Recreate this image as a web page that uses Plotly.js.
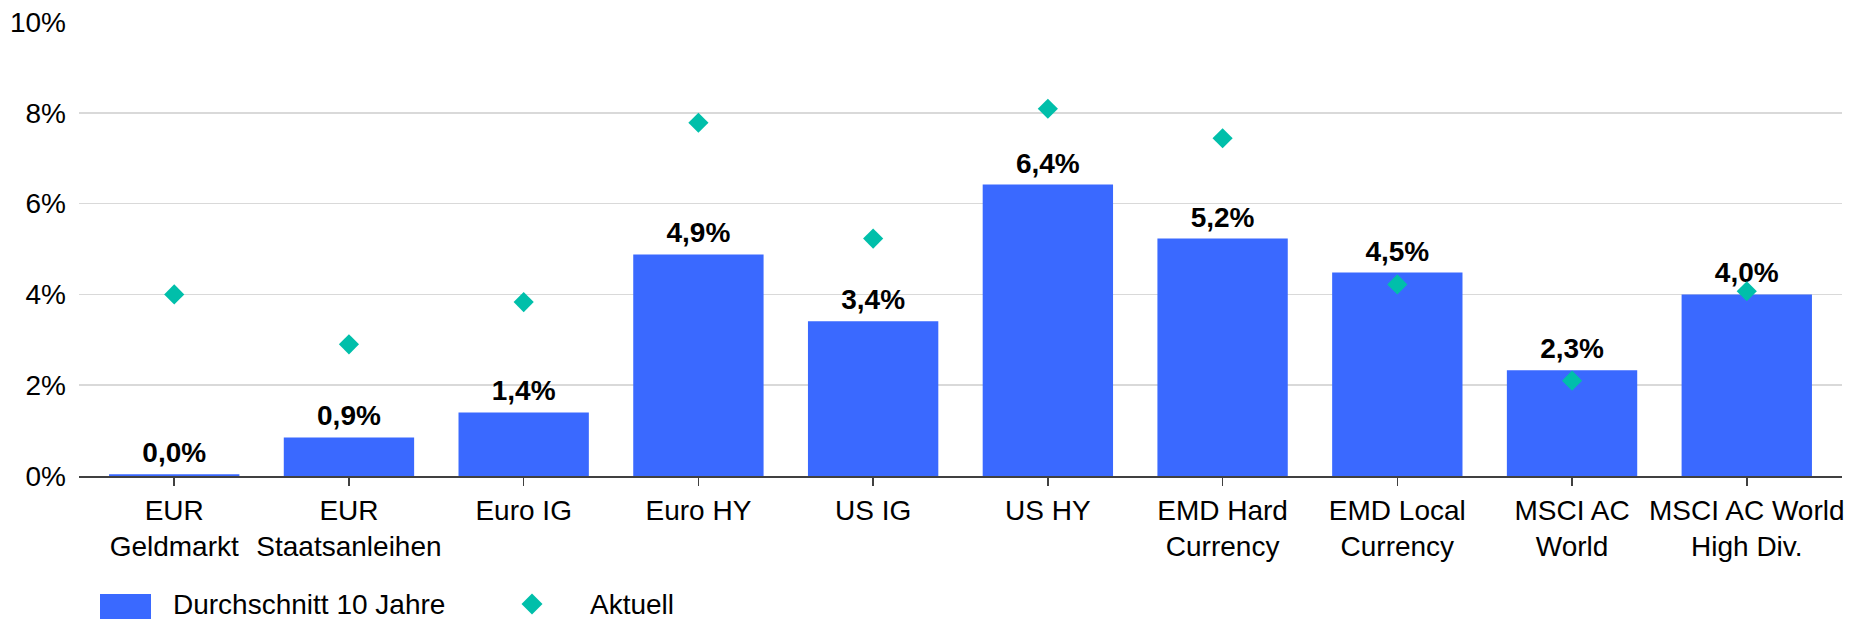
<!DOCTYPE html>
<html><head><meta charset="utf-8">
<script src="https://cdn.plot.ly/plotly-3.0.1.min.js"></script>
<style>html,body{margin:0;padding:0;background:#fff;}#chart{width:1849px;height:620px;}</style>
</head><body><div id="chart"></div>
<script>
// ---- data ----
const categories = ["EUR<br>Geldmarkt", "EUR<br>Staatsanleihen", "Euro IG", "Euro HY", "US IG", "US HY",
  "EMD Hard<br>Currency", "EMD Local<br>Currency", "MSCI AC<br>World", "MSCI AC World<br>High Div."];
const avg10y = [0.04, 0.85, 1.40, 4.88, 3.41, 6.42, 5.23, 4.48, 2.33, 4.00];
const avgLabels = ["0,0%", "0,9%", "1,4%", "4,9%", "3,4%", "6,4%", "5,2%", "4,5%", "2,3%", "4,0%"];
const current = [4.00, 2.90, 3.83, 7.78, 5.23, 8.09, 7.44, 4.22, 2.10, 4.07];
const seriesNames = ["Durchschnitt 10 Jahre", "Aktuell"];
const yTickVals = [0, 2, 4, 6, 8, 10];
const yTickText = ["0%", "2%", "4%", "6%", "8%", "10%"];

// ---- style ----
const BLUE = "#3A69FF";
const TEAL = "#00BFAA";
const FONT = "'Liberation Sans', Arial, sans-serif";
const FS = 28;
const W = 1849, H = 620;
const M = {l: 79, r: 7, t: 22, b: 144};
const PW = W - M.l - M.r, PH = H - M.t - M.b;
const px2x = p => (p - M.l) / PW;
const px2y = p => (H - M.b - p) / PH;

const traces = [
  {
    type: "bar", x: categories, y: avg10y, name: seriesNames[0],
    marker: {color: BLUE}, hoverinfo: "skip", showlegend: false
  },
  {
    type: "scatter", mode: "markers+text", x: categories, y: avg10y, text: avgLabels,
    textposition: "top center", cliponaxis: false,
    textfont: {family: FONT, size: FS, color: "#000", weight: "bold"},
    marker: {size: 6.4, opacity: 0}, hoverinfo: "skip", showlegend: false
  },
  {
    type: "scatter", mode: "markers", x: categories, y: current, name: seriesNames[1],
    marker: {symbol: "diamond", size: 15.5, color: TEAL}, cliponaxis: false,
    hoverinfo: "skip", showlegend: false
  }
];

// manual legend (swatches + labels)
const lgY = 604;
const dHalfX = 10.5 / PW, dHalfY = 10.5 / PH;
const dx = px2x(532), dy = px2y(lgY);
const shapes = [
  {type: "rect", xref: "paper", yref: "paper", x0: px2x(100), x1: px2x(151), y0: px2y(594), y1: px2y(619),
   fillcolor: BLUE, line: {width: 0}},
  {type: "path", xref: "paper", yref: "paper",
   path: `M ${dx - dHalfX} ${dy} L ${dx} ${dy + dHalfY} L ${dx + dHalfX} ${dy} L ${dx} ${dy - dHalfY} Z`,
   fillcolor: TEAL, line: {width: 0}}
];
const annotations = [
  {xref: "paper", yref: "paper", x: px2x(171), y: px2y(lgY), xanchor: "left", yanchor: "middle",
   text: seriesNames[0], showarrow: false, font: {family: FONT, size: FS, color: "#000"}},
  {xref: "paper", yref: "paper", x: px2x(588), y: px2y(lgY), xanchor: "left", yanchor: "middle",
   text: seriesNames[1], showarrow: false, font: {family: FONT, size: FS, color: "#000"}}
];

const layout = {
  width: W, height: H,
  margin: M,
  paper_bgcolor: "#fff", plot_bgcolor: "#fff",
  bargap: 0.254,
  showlegend: false,
  font: {family: FONT, size: FS, color: "#000"},
  xaxis: {
    type: "category", range: [-0.545, 9.545],
    showgrid: false, zeroline: false,
    showline: true, linecolor: "#404040", linewidth: 2,
    ticks: "outside", ticklen: 8, tickwidth: 1.5, tickcolor: "#404040",
    tickangle: 0,
    tickfont: {family: FONT, size: FS, color: "#000"},
    fixedrange: true
  },
  yaxis: {
    range: [0, 10], tickvals: yTickVals, ticktext: yTickText,
    showgrid: true, gridcolor: "#d9d9d9", gridwidth: 1.5,
    zeroline: false, showline: false, ticks: "",
    ticklabelstandoff: 12,
    tickfont: {family: FONT, size: FS, color: "#000"},
    fixedrange: true
  },
  shapes: shapes,
  annotations: annotations
};

Plotly.newPlot("chart", traces, layout, {displayModeBar: false, staticPlot: true});
</script>
</body></html>
